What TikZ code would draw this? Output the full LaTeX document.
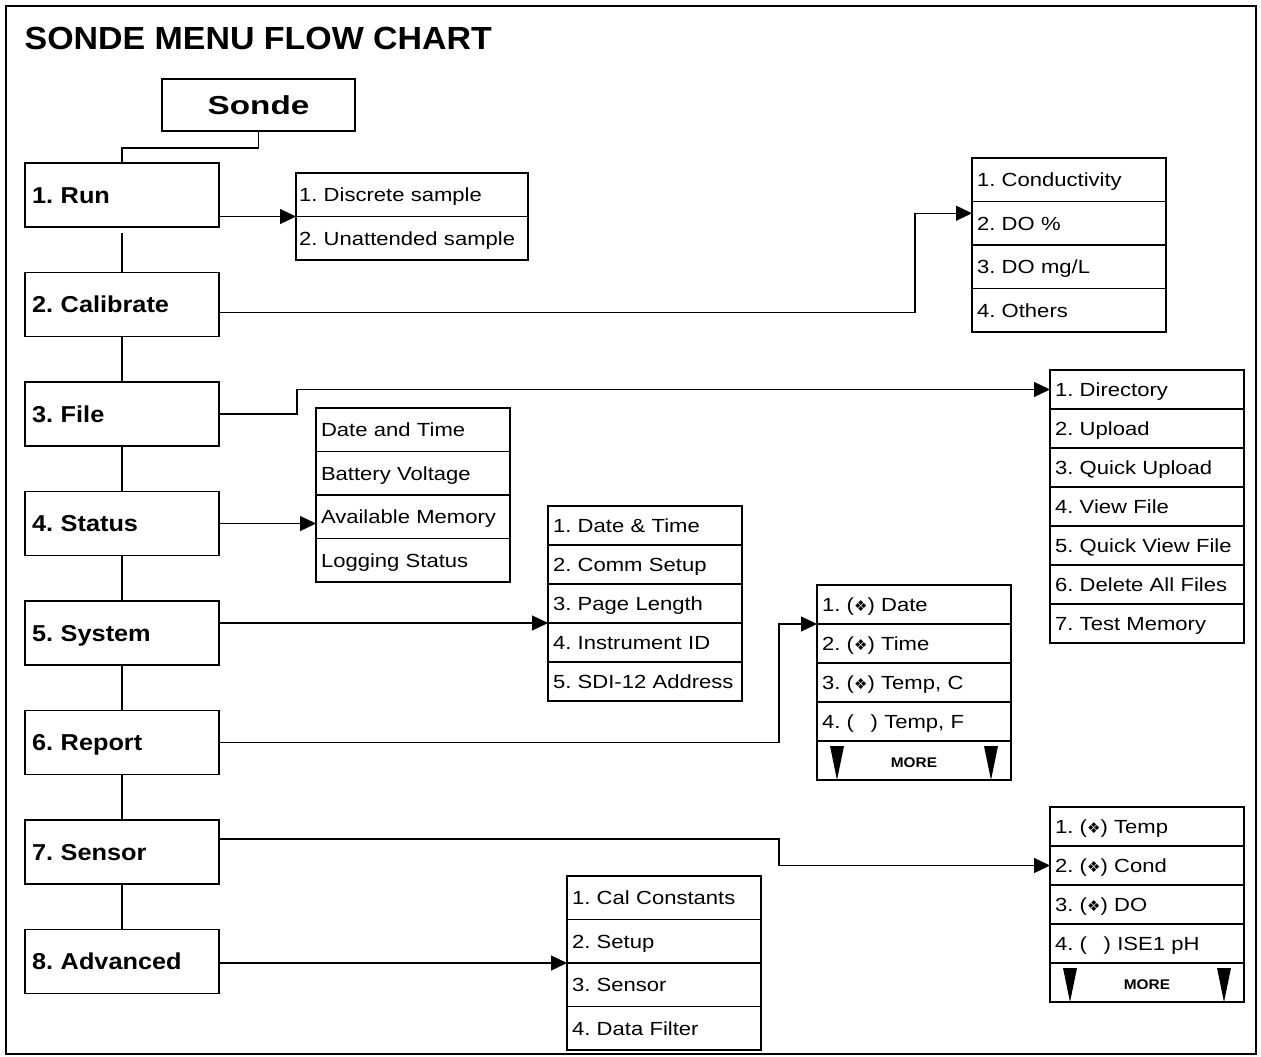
\documentclass[tikz,border=0pt]{standalone}
\usepackage{fontspec}
\setmainfont{Liberation Sans}
\newfontfamily\titlefont[FakeStretch=1.06]{Liberation Sans}
\newfontfamily\headfont[FakeStretch=1.28]{Liberation Sans}
\newfontfamily\menufont[FakeStretch=1.1]{Liberation Sans}
\newfontfamily\subfont[FakeStretch=1.16]{Liberation Sans}
\newfontfamily\symfont{DejaVu Sans}
\usetikzlibrary{positioning, arrows.meta}
\frenchspacing

\newcommand{\dia}{{\symfont\fontsize{15}{15}\selectfont\char"2756}}
\newcommand{\nodia}{\phantom{\dia}\,}
\newcommand{\moremarks}[1]{%
  \fill ([xshift=13pt,yshift=-5pt]#1.north west) -- ++(14,0) -- ++(-7,34) -- cycle;
  \fill ([xshift=-13pt,yshift=-5pt]#1.north east) -- ++(-14,0) -- ++(7,34) -- cycle;}

\begin{document}
\begin{tikzpicture}[
    x=1pt, y=-1pt,
    node distance=45.5pt,
    >={Triangle[length=16pt,width=15pt]},
    line width=1.3pt,
    menu/.style={draw, outer sep=0pt, inner xsep=7pt, inner ysep=0pt,
      text width=180pt, align=left, minimum height=64pt,
      text height=16.5pt, text depth=0pt,
      font=\menufont\bfseries\fontsize{23}{23}\selectfont},
    item/.style={draw, outer sep=0pt, inner xsep=5pt, inner ysep=0pt,
      text width=184pt, align=left, minimum height=39pt,
      text height=13.6pt, text depth=0pt,
      font=\subfont\fontsize{19}{19}\selectfont},
    tall/.style={minimum height=43.5pt},
    runitem/.style={item, tall, text width=226pt, inner xsep=3pt},
    more/.style={item, align=center,
      font=\menufont\bfseries\fontsize{14}{14}\selectfont}
  ]
  \useasboundingbox (0,0) rectangle (1261,1057);
  \draw[line width=2.5pt] (6,6) rectangle (1256,1054);

  \node[anchor=base west, inner sep=0pt,
    font=\titlefont\bfseries\fontsize{32}{32}\selectfont] (title) at (24,50)
    {SONDE MENU FLOW CHART};

  \node[draw, outer sep=0pt, inner sep=0pt, minimum width=193pt,
    minimum height=52pt, text height=18.5pt, text depth=0pt,
    font=\headfont\bfseries\fontsize{26}{26}\selectfont] (sonde) at (258.5,105) {Sonde};

  % main menu
  \node[menu]                  (run)  at (122,195) {1. Run};
  \node[menu, below=of run]    (cal)  {2. Calibrate};
  \node[menu, below=of cal]    (file) {3. File};
  \node[menu, below=of file]   (stat) {4. Status};
  \node[menu, below=of stat]   (sys)  {5. System};
  \node[menu, below=of sys]    (rep)  {6. Report};
  \node[menu, below=of rep]    (sen)  {7. Sensor};
  \node[menu, below=of sen]    (adv)  {8. Advanced};

  % run
  \node[runitem, anchor=north west] (rs1) at (296,173) {1. Discrete sample};
  \node[runitem, below=0pt of rs1]  (rs2) {2. Unattended sample};

  % calibrate
  \node[item, tall, anchor=north west] (cs1) at (972,158) {1. Conductivity};
  \node[item, tall, below=0pt of cs1]  (cs2) {2. DO \%};
  \node[item, tall, below=0pt of cs2]  (cs3) {3. DO mg/L};
  \node[item, tall, below=0pt of cs3]  (cs4) {4. Others};

  % file
  \node[item, anchor=north west] (fs1) at (1050,370) {1. Directory};
  \node[item, below=0pt of fs1]  (fs2) {2. Upload};
  \node[item, below=0pt of fs2]  (fs3) {3. Quick Upload};
  \node[item, below=0pt of fs3]  (fs4) {4. View File};
  \node[item, below=0pt of fs4]  (fs5) {5. Quick View File};
  \node[item, below=0pt of fs5]  (fs6) {6. Delete All Files};
  \node[item, below=0pt of fs6]  (fs7) {7. Test Memory};

  % status
  \node[item, tall, anchor=north west] (ss1) at (316,408) {Date and Time};
  \node[item, tall, below=0pt of ss1]  (ss2) {Battery Voltage};
  \node[item, tall, below=0pt of ss2]  (ss3) {Available Memory};
  \node[item, tall, below=0pt of ss3]  (ss4) {Logging Status};

  % system
  \node[item, anchor=north west] (ys1) at (548,506) {1. Date \& Time};
  \node[item, below=0pt of ys1]  (ys2) {2. Comm Setup};
  \node[item, below=0pt of ys2]  (ys3) {3. Page Length};
  \node[item, below=0pt of ys3]  (ys4) {4. Instrument ID};
  \node[item, below=0pt of ys4]  (ys5) {5. SDI-12 Address};

  % report
  \node[item, anchor=north west] (rp1) at (817,585) {1. (\dia) Date};
  \node[item, below=0pt of rp1]  (rp2) {2. (\dia) Time};
  \node[item, below=0pt of rp2]  (rp3) {3. (\dia) Temp, C};
  \node[item, below=0pt of rp3]  (rp4) {4. (\nodia) Temp, F};
  \node[more, below=0pt of rp4]  (rp5) {MORE};
  \moremarks{rp5}

  % sensor
  \node[item, anchor=north west] (sn1) at (1050,807) {1. (\dia) Temp};
  \node[item, below=0pt of sn1]  (sn2) {2. (\dia) Cond};
  \node[item, below=0pt of sn2]  (sn3) {3. (\dia) DO};
  \node[item, below=0pt of sn3]  (sn4) {4. (\nodia) ISE1 pH};
  \node[more, below=0pt of sn4]  (sn5) {MORE};
  \moremarks{sn5}

  % advanced
  \node[item, tall, anchor=north west] (av1) at (567,876) {1. Cal Constants};
  \node[item, tall, below=0pt of av1]  (av2) {2. Setup};
  \node[item, tall, below=0pt of av2]  (av3) {3. Sensor};
  \node[item, tall, below=0pt of av3]  (av4) {4. Data Filter};

  % main column links
  \draw (sonde.south) -- ++(0,17) -| (run.north);
  \draw ([yshift=-6pt]run.south) -- (cal.north);
  \draw (cal.south)  -- (file.north);
  \draw (file.south) -- (stat.north);
  \draw (stat.south) -- (sys.north);
  \draw (sys.south)  -- (rep.north);
  \draw (rep.south)  -- (sen.north);
  \draw (sen.south)  -- (adv.north);

  % links to submenus
  \draw[->] (run.east |- rs1.south) -- (rs1.south west);
  \draw[->] ([yshift=-8pt]cal.east) -| ([xshift=-57pt,yshift=10pt]cs2.west) -- ([yshift=10pt]cs2.west);
  \draw[->] (file.east) -- ++(78,0) |- (fs1.west);
  \draw[->] (stat.east) -- (stat.east -| ss3.west);
  \draw[->] (sys.east |- ys3.south) -- (ys3.south west);
  \draw[->] (rep.east) -- ++(560,0) |- (rp1.south west);
  \draw[->] ([yshift=13pt]sen.east) -- ++(560,0) |- (sn2.west);
  \draw[->] (adv.east |- av2.south) -- (av2.south west);

\end{tikzpicture}
\end{document}
